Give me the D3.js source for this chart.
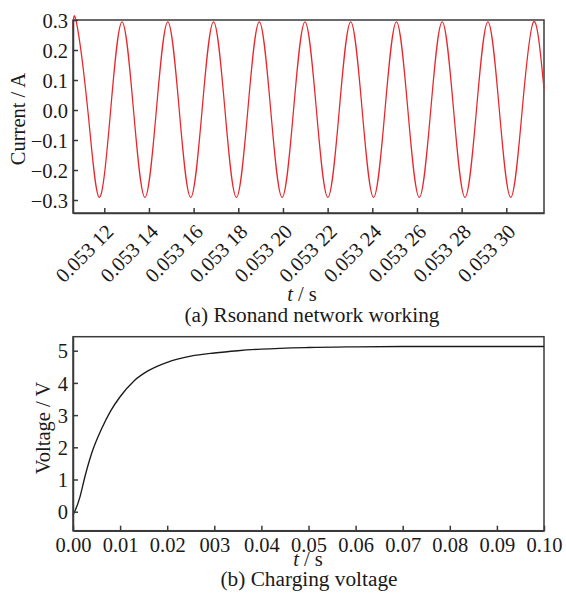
<!DOCTYPE html>
<html><head><meta charset="utf-8">
<script src="https://cdn.jsdelivr.net/npm/d3@7"></script>
<style>
html,body{margin:0;padding:0;background:#fff;}
svg{display:block;}
</style></head>
<body>
<svg id="chart" width="566" height="597"></svg>
<script>
// ---------- Data: (a) resonant network current ----------
const currentTime = [0.05310599,0.05310749,0.05311261,0.05311773,0.05312285,0.05312796,0.05313308,0.05313820,0.05314332,
  0.05314844,0.05315356,0.05315868,0.05316379,0.05316891,0.05317403,0.05317915,0.05318427,0.05318939,0.05319451,
  0.05319962,0.05320474,0.05320986,0.05321498,0.05322010,0.05322522,0.05323034,0.05323546,0.05324057,0.05324569,
  0.05325081,0.05325593,0.05326105,0.05326617,0.05327129,0.05327640,0.05328152,0.05328664,0.05329176,0.05329688,
  0.05330200,0.05330712,0.05331224,0.05331688];
const currentValue = [0.27,0.294,0,-0.291,0,0.294,0,-0.291,0,
  0.294,0,-0.291,0,0.294,0,-0.291,0,0.294,0,
  -0.291,0,0.294,0,-0.291,0,0.294,0,-0.291,0,
  0.294,0,-0.291,0,0.294,0,-0.291,0,0.294,0,
  -0.291,0,0.294,0.07];
const currentXTicks = [0.05312,0.05314,0.05316,0.05318,0.05320,0.05322,0.05324,0.05326,0.05328,0.05330];
const currentXLabels = ["0.053 12","0.053 14","0.053 16","0.053 18","0.053 20","0.053 22","0.053 24","0.053 26","0.053 28","0.053 30"];
const currentYTicks = [0.3,0.2,0.1,0,-0.1,-0.2,-0.3];
const currentYLabels = ["0.3","0.2","0.1","0.0","\u22120.1","\u22120.2","\u22120.3"];

// ---------- Data: (b) charging voltage ----------
const voltageTime  = [0,0.0005,0.0015,0.0025,0.004,0.006,0.008,0.010,0.013,0.016,0.020,0.025,0.030,0.035,0.040,0.050,0.060,0.070,0.080,0.090,0.100];
const voltageValue = [-0.1,0.05,0.47,1.07,1.83,2.55,3.13,3.57,4.07,4.38,4.64,4.83,4.93,5.00,5.05,5.10,5.12,5.13,5.13,5.13,5.13];
const voltageXTicks = [0,0.01,0.02,0.03,0.04,0.05,0.06,0.07,0.08,0.09,0.10];
const voltageXLabels = ["0.00","0.01","0.02","003","0.04","0.05","0.06","0.07","0.08","0.09","0.10"];
const voltageYTicks = [5,4,3,2,1,0];
const voltageYLabels = ["5","4","3","2","1","0"];

const svg = d3.select("#chart");
const FONT = '"Liberation Serif", "Times New Roman", serif';
const FS = 20.5;
const CAP_FS = 21.3;
const axisColor = "#3a3a3a";
const textColor = "#1a1a1a";

function styleText(sel, size){
  sel.style("font-family", FONT).style("font-size", size + "px").attr("fill", textColor);
}

function panel(cfg){
  const x = d3.scaleLinear().domain(cfg.xDomain).range([cfg.left, cfg.right]);
  const y = d3.scaleLinear().domain(cfg.yDomain).range([cfg.bottom, cfg.top]);
  const g = svg.append("g");
  g.append("rect").attr("x",cfg.left).attr("y",cfg.top)
    .attr("width",cfg.right-cfg.left).attr("height",cfg.bottom-cfg.top)
    .attr("fill","none").attr("stroke",axisColor).attr("stroke-width",1.5);
  const pts = cfg.xs.map((d,i)=>[d,cfg.ys[i]]);
  g.append("path").datum(pts)
    .attr("d", d3.line().x(d=>x(d[0])).y(d=>y(d[1])).curve(cfg.curve))
    .attr("fill","none").attr("stroke",cfg.color).attr("stroke-width",cfg.width);
  const ya = g.append("g").attr("transform",`translate(${cfg.left},0)`)
    .call(d3.axisLeft(y).tickValues(cfg.yTicks).tickFormat((d,i)=>cfg.yLabels[i])
      .tickSizeInner(-5).tickSizeOuter(0).tickPadding(5));
  const xa = g.append("g").attr("transform",`translate(0,${cfg.bottom})`)
    .call(d3.axisBottom(x).tickValues(cfg.xTicks).tickFormat((d,i)=>cfg.xLabels[i])
      .tickSizeInner(-5).tickSizeOuter(0).tickPadding(7));
  [ya,xa].forEach(a=>{
    a.select(".domain").attr("stroke",axisColor).attr("stroke-width",1.5);
    a.selectAll(".tick line").attr("stroke",axisColor).attr("stroke-width",1.5);
    styleText(a.selectAll("text"), FS);
  });
  ya.selectAll("text").attr("dy","0.35em");
  if(cfg.rotate){
    xa.selectAll(".tick text").attr("x",0).attr("y",0).attr("dy",0)
      .attr("text-anchor","end").attr("transform","translate(10,20) rotate(-45)");
  }
  styleText(g.append("text").attr("transform",`translate(${cfg.yTitleX},${cfg.yTitleY}) rotate(-90)`)
    .attr("text-anchor","middle").text(cfg.yTitle), FS);
  const xt = g.append("text").attr("x",cfg.xTitleX).attr("y",cfg.xTitleY)
    .attr("text-anchor","middle");
  styleText(xt, FS);
  xt.append("tspan").style("font-style","italic").text("t");
  xt.append("tspan").text(" / s");
  styleText(g.append("text").attr("x",cfg.captionX).attr("y",cfg.captionY)
    .attr("text-anchor","middle").text(cfg.caption), CAP_FS);
}

panel({
  left:73, right:544, top:20, bottom:213,
  xDomain:[0.05310599,0.05331688], yDomain:[-0.3433,0.3],
  xs:currentTime, ys:currentValue, curve:d3.curveNatural, color:"#e8262b", width:1.25,
  xTicks:currentXTicks, xLabels:currentXLabels, yTicks:currentYTicks, yLabels:currentYLabels,
  rotate:true, yTitle:"Current / A", yTitleX:25, yTitleY:119,
  xTitleX:302, xTitleY:301, caption:"(a) Rsonand network working", captionX:312, captionY:322
});
panel({
  left:73, right:544, top:336.7, bottom:530.7,
  xDomain:[0,0.1], yDomain:[-0.59,5.435],
  xs:voltageTime, ys:voltageValue, curve:d3.curveMonotoneX, color:"#1a1a1a", width:1.35,
  xTicks:voltageXTicks, xLabels:voltageXLabels, yTicks:voltageYTicks, yLabels:voltageYLabels,
  rotate:false, yTitle:"Voltage / V", yTitleX:50, yTitleY:428,
  xTitleX:308, xTitleY:565.5, caption:"(b) Charging voltage", captionX:309, captionY:586
});
</script>
</body></html>
